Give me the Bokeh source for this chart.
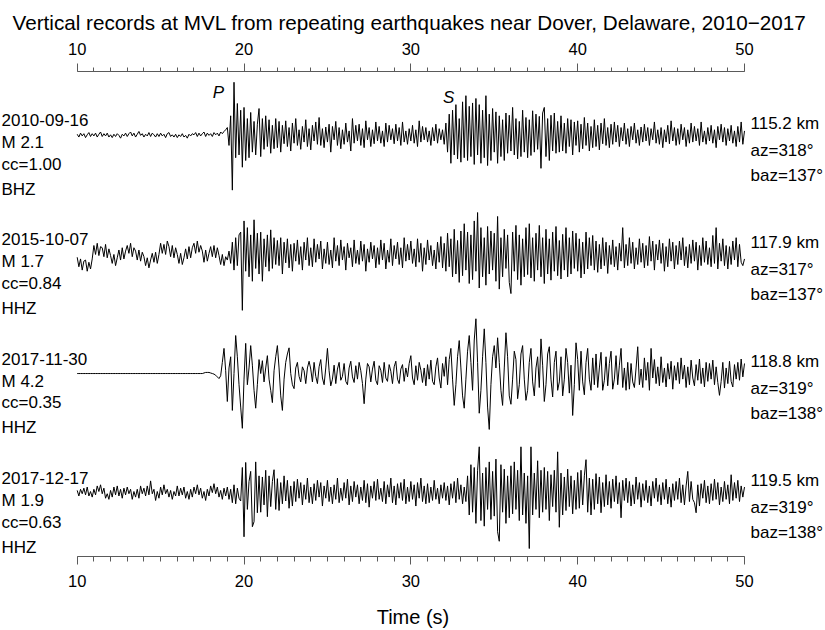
import numpy as np
from bokeh.plotting import figure
from bokeh.models import Range1d, LinearAxis, FixedTicker, LabelSet, ColumnDataSource
from bokeh.core.properties import value
from bokeh.embed import file_html
from bokeh.resources import INLINE

# ---------------- data ----------------
title_text = "Vertical records at MVL from repeating earthquakes near Dover, Delaware, 2010\u22122017"
x_label = "Time (s)"
t_start = 10.0          # s, first sample
dt = 0.1                # s, sample interval
x_ticks = [10, 20, 30, 40, 50]
x_minor = list(range(10, 51))

dates = ["2010-09-16", "2015-10-07", "2017-11-30", "2017-12-17"]
mags = ["M 2.1", "M 1.7", "M 4.2", "M 1.9"]
ccs = ["cc=1.00", "cc=0.84", "cc=0.35", "cc=0.63"]
chans = ["BHZ", "HHZ", "HHZ", "HHZ"]
dists = ["115.2 km", "117.9 km", "118.8 km", "119.5 km"]
azs = ["az=318\u00b0", "az=317\u00b0", "az=319\u00b0", "az=319\u00b0"]
bazs = ["baz=137\u00b0", "baz=137\u00b0", "baz=138\u00b0", "baz=138\u00b0"]
offsets = [4, 3, 2, 1]

phase_names = ["P", "S"]
phase_t = [18.47, 32.26]

# normalised amplitudes (percent of trace maximum), one sample every 0.1 s from 10 s to 50 s
trace_2010 = [
    2, -3, 4, -1, 3, -4, 1, 5, -2, 3,
    -1, 4, -3, 2, 6, -2, 3, -1, 4, -3,
    1, -4, 2, -2, 3, 0, -5, 2, -1, 4,
    -2, 3, 6, -1, 4, -3, 2, 7, 0, 3,
    -3, 2, -1, 5, -2, 4, 1, -3, 3, -2,
    4, -1, 2, -4, 3, 5, -2, 1, -3, 2,
    -4, 1, -2, 3, -3, 0, -5, 2, -1, 3,
    1, 5, -2, 4, -1, 3, 6, -2, 4, 0,
    3, -2, 5, 1, 4, -1, 6, 3, 7, 10,
    14, -18, 35, -98, 95, -40, 57, -35, 45, -57,
    50, -45, 30, -40, 41, -30, 25, -35, 20, 48,
    -38, 30, -25, 35, -20, 28, -32, 18, -24, 30,
    -22, 25, -30, 18, -15, 26, -20, 14, -28, 22,
    -14, 30, -18, 10, -25, 16, -12, 28, -20, 12,
    -26, 18, -10, 24, -16, 32, -18, 12, -22, 15,
    -12, 20, -30, 16, -8, 25, -18, 14, -24, 10,
    -16, 22, -12, 8, -28, 30, -14, 18, -10, 20,
    -18, 12, -22, 26, -8, 14, -20, 10, -15, 24,
    -10, 16, -14, 8, -20, 22, -12, 18, -8, 12,
    -15, 20, -10, 14, -18, 24, -12, 8, -16, 12,
    -10, 18, -14, 10, -20, 26, -12, 16, -8, 14,
    -12, 8, -18, 14, -10, 20, -14, 12, -8, 10,
    -16, 22, -30, 38, -50, 45, -35, 55, -42, 30,
    -48, 60, -40, 71, -45, 52, -38, 58, -52, 66,
    -35, 55, -50, 45, -40, 71, -54, 38, -45, 48,
    -30, 42, -50, 35, -38, 28, -45, 40, -32, 36,
    -28, 50, -35, 30, -42, 25, -38, 45, -30, 32,
    -40, 28, -36, 44, -30, 38, -25, 34, -59, 40,
    50, -38, 30, -45, 36, -28, 40, -32, 25, -30,
    35, -28, 22, -32, 30, -20, 28, -35, 24, -18,
    26, -30, 20, -24, 32, -18, 22, -28, 16, -22,
    28, -20, 18, -26, 22, -15, 30, -18, 14, -22,
    20, -16, 24, -12, 18, -20, 14, -10, 22, -16,
    12, -20, 16, -8, 22, -14, 10, -18, 15, -12,
    20, -10, 14, -18, 12, -8, 24, -14, 10, -16,
    14, -22, 10, -12, 18, -15, 26, -10, 14, -18,
    12, -16, 20, -8, 14, -20, 10, -14, 22, -12,
    16, -10, 12, -18, 24, -12, 8, -16, 14, -10,
    18, -14, 10, -22, 16, -8, 20, -12, 14, -18,
    12, -10, 18, -14, 8, -20, 16, -12, 24, -16,
    8,
]

trace_2015 = [
    -5, -22, -8, -28, -12, -10, -30, -14, -26, -8,
    16, 0, 20, -2, 14, 12, -4, 18, -6, 10,
    -2, -16, 0, -20, -6, 8, -10, 12, -8, 6,
    16, 2, 20, -4, 12, 6, -10, 8, -12, 4,
    -4, -20, -6, -24, -10, 2, -14, 4, -16, 0,
    20, 2, 18, 0, 24, 14, -4, 16, -6, 12,
    0, -16, 2, -18, -6, 10, -8, 14, -6, 12,
    20, 2, 24, 4, 16, 6, -14, 8, -12, 2,
    14, -4, 16, -6, 12, -2, -18, 0, -20, -4,
    -10, 6, -16, 22, -28, 30, -20, 35, 40, -100,
    60, -30, 48, -40, 35, -48, 62, -25, 38, -35,
    40, -48, 28, -22, 35, -30, 44, -25, 30, -18,
    25, -20, 30, -35, 22, -15, 28, -24, 18, -30,
    20, -12, 26, -18, 14, -28, 22, -10, 30, -20,
    12, -22, 28, -14, 18, -8, 24, -26, 10, -16,
    22, -18, 8, -24, 30, -12, 16, -20, 26, -10,
    14, -28, 20, -6, 12, -22, 26, -16, 8, -18,
    24, -12, 18, -30, 10, -14, 22, -8, 16, -24,
    12, -18, 26, -10, 20, -26, 8, -14, 28, -20,
    16, -8, 22, -18, 12, -24, 30, -12, 18, -10,
    24, -16, 10, -22, 28, -14, 20, -30, 12, -18,
    26, -10, 16, -20, 8, -26, 22, -14, 32, -24,
    20, -30, 38, -22, 28, -40, 45, -35, 25, -50,
    42, -38, 55, -28, 40, -52, 35, -45, 60, -30,
    75, -60, 48, -40, 30, -55, 50, -35, 42, -28,
    38, -48, 68, -62, 30, -40, 45, -25, 35, -50,
    -70, 40, -30, 52, -45, 35, -55, 28, -40, 48,
    -36, 55, -42, 30, -48, 38, -28, 52, -40, 30,
    -52, 45, -35, 28, -46, 40, -30, 50, -38, 25,
    -44, 36, -28, 48, -40, 30, -35, 42, -25, 38,
    -30, 28, -42, 22, -35, 40, -26, 30, -20, 34,
    -28, 24, -32, 18, -26, 30, -20, 22, -34, 16,
    -18, 26, -22, 14, -28, 20, -12, 48, -24, 18,
    -20, 30, -16, 22, -26, 12, -18, 28, -14, 20,
    -24, 16, -20, 32, -12, 24, -28, 18, -10, 26,
    -16, 20, -30, 14, -22, 28, -12, 22, -26, 16,
    -18, 24, -10, 30, -20, 14, -24, 18, -16, 26,
    -12, 22, -28, 16, -20, 30, -14, 24, -18, 12,
    -22, 34, -16, 48, -26, 20, -12, 28, -20, 16,
    -26, 14, -18, 24, -10, 30, -22, 18, -14, -20,
    -8,
]

trace_2017a = [
    0, 0, 0, 0, 0, 0, 0, 0, 0, 0,
    0, 0, 0, 0, 0, 0, 0, 0, 0, 0,
    0, 0, 0, 0, 0, 0, 0, 0, 0, 0,
    0, 0, 0, 0, 0, 0, 0, 0, 0, 0,
    0, 0, 0, 0, 0, 0, 0, 0, 0, 0,
    0, 0, 0, 0, 0, 0, 0, 0, 0, 0,
    0, 0, 0, 0, 0, 0, 0, 0, 0, 0,
    0, 0, 0, 0, 0, 0, 1, 2, 2, 2,
    1, 0, -1, -3, -6, -9, -4, 20, 45, 5,
    -50, 10, 30, -66, 0, 68, 30, -20, -60, -98,
    -10, 54, -20, 10, 50, 15, -30, -62, -20, 25,
    0, 23, -15, 10, 32, -10, -30, -52, 5, 30,
    50, 10, -40, -66, -10, 20, 35, 46, 0, -20,
    -27, 10, 20, -5, -15, 12, 5, -18, 10, 22,
    8, -15, 20, -5, -18, 12, 25, -8, -20, 10,
    45, 5, -22, -10, 15, -18, 8, 20, -12, -5,
    18, -14, -20, 10, 22, -6, -16, 14, -10, 20,
    5, -18, -54, -10, 18, 12, -15, 8, 22, -12,
    -20, 14, 6, -16, 20, -8, -14, 16, 4, -18,
    12, 22, -10, -18, 8, 16, -14, 10, -6, 18,
    32, -8, -20, 14, -12, 20, 6, -16, 10, -22,
    16, -10, 24, -14, -20, 12, 28, -8, -26, 18,
    -5, 30, -20, 25, 45, -10, -57, -20, 30, 59,
    10, -40, -62, -10, 40, 68, 20, -30, 60, 98,
    20, -71, -30, 30, 80, 20, -60, -100, -20, 30,
    50, 10, 64, 20, -30, -57, 10, 73, 30, -40,
    -55, -10, 40, 25, -45, -20, 35, 50, -10, -48,
    -30, 20, 45, -15, -40, 10, 30, -25, 62, 15,
    -50, -20, 35, 48, -10, -42, 20, 40, -30, -15,
    30, -40, -10, 45, 20, -35, 15, -75, -20, 55,
    25, -30, 40, -15, -38, 20, 45, -10, -30, 28,
    -20, 35, -25, 10, 38, -30, -12, 30, -22, 18,
    40, -28, -10, 32, -20, 15, 45, -25, 10, -30,
    20, -28, 18, -15, -25, 10, 48, -20, 8, -25,
    28, -12, 20, -30, 45, -8, 25, -18, 12, -22,
    30, -16, 10, -24, 18, -10, 22, -28, 14, -12,
    20, -18, 28, -10, 15, -25, 12, -20, 24, -8,
    -22, 16, -12, 26, -18, 10, -24, 20, -14, 18,
    -10, 24, -20, 12, -16, -39, -14, 20, -26, 10,
    -18, 22, -14, -24, 16, -10, 20, -12, 26, -6,
    18,
]

trace_2017b = [
    4, -6, 6, -2, 8, -4, 10, -6, 2, -8,
    6, -4, 12, 2, 14, -2, 8, -10, -2, -12,
    4, -8, 10, -4, 12, -6, 6, -10, 8, -4,
    10, -2, 6, -12, 2, -8, 6, -10, 12, -2,
    8, -6, 12, -4, 21, -2, 6, -14, 2, -10,
    10, -4, 14, -2, 6, -8, 4, -12, 2, -6,
    12, -6, 8, -4, 10, -10, 2, -12, 6, -8,
    10, -2, 14, -4, 8, -10, 2, -14, 6, -6,
    12, 0, 16, -2, 10, -8, 4, -12, 8, -6,
    10, -12, 6, -18, 14, -20, 8, -10, -15, 45,
    -79, 54, -30, 20, 38, -61, -52, 55, -36, 30,
    -35, 28, -22, 40, -43, 30, -25, 20, 41, -30,
    25, -32, 18, -20, 30, -15, 22, -28, 12, -24,
    20, -16, 24, -10, 18, -22, 14, -12, 26, -18,
    10, -20, 16, -14, 22, -8, 18, -24, 12, -10,
    22, -16, 10, -20, 14, -12, 26, -18, 8, -14,
    18, -10, 24, -22, 12, -16, 20, -8, 14, -20,
    10, -14, 22, -18, 16, -26, 12, -10, 20, -14,
    24, -12, 8, -16, 20, -20, 14, -8, 26, -18,
    12, -22, 16, -10, 18, -14, 24, -20, 10, -16,
    20, -12, 14, -24, 18, -10, 26, -16, 12, -20,
    16, -18, 10, -14, 22, -12, 8, -20, 14, -10,
    18, -14, 12, -22, 16, -10, 20, -18, 26, -12,
    14, -20, 10, -16, 30, -40, 50, -35, 45, -55,
    40, 82, -50, 35, -60, 45, -30, 55, -48, 38,
    -42, 60, -70, -87, 50, -35, 42, -55, 30, -45,
    48, -38, 55, -30, 40, -50, 82, -40, 35, -55,
    30, -100, 82, -40, 35, -30, 57, -45, 40, -35,
    45, -30, 38, -50, 32, -25, 40, -35, 73, -62,
    35, -40, 28, -32, 42, -25, 30, -38, 22, -30,
    36, -28, 40, -22, 30, 59, -35, 26, -40, 24,
    -30, 34, -20, 28, -36, 18, -25, 32, -22, 20,
    -28, 24, -16, 30, -20, 18, -45, 22, -14, 26,
    -18, 20, -24, 14, -20, 28, -12, 18, -26, 16,
    -14, 22, -18, 12, -24, 20, -10, 26, -16, 14,
    -22, 18, -12, 24, -20, 10, -26, 16, -14, 20,
    -12, 26, -18, 14, -22, 12, 38, -16, 20, -12,
    -18, -36, 14, -24, 16, -10, 22, -18, 12, -20,
    16, -14, 24, -12, 18, -22, 10, -16, 20, -12,
    14, -20, 32, -14, 18, -10, 22, -16, 12, -8,
    10,
]

traces = [trace_2010, trace_2015, trace_2017a, trace_2017b]

# ---------------- layout constants (canvas pixels) ----------------
FONT = "Liberation Sans"
W, H = 825, 630
X10, X50 = 76.7, 744.0          # canvas x of 10 s and 50 s
FRAME_TOP, FRAME_BOT = 71, 557  # axis lines
BASE_TOP, BASE_BOT = 135.0, 493.0  # baselines of first and last trace
ppx = (X50 - X10) / 40.0
ppu = (BASE_BOT - BASE_TOP) / (offsets[0] - offsets[-1])
Y1 = offsets[0] + (BASE_TOP - FRAME_TOP) / ppu
Y0 = offsets[-1] - (FRAME_BOT - BASE_BOT) / ppu
AMP = 56.0 / ppu / 100.0        # trace units per percent amplitude


def x_from_canvas(cx):
    return 10.0 + (cx - X10) / ppx


p = figure(width=W, height=H,
           x_range=Range1d(x_from_canvas(0), x_from_canvas(W)), y_range=Range1d(Y0, Y1),
           output_backend="svg", toolbar_location=None,
           x_axis_location=None, y_axis_location=None,
           min_border_left=0, min_border_right=0,
           min_border_top=FRAME_TOP, min_border_bottom=H - FRAME_BOT)
p.outline_line_color = None
p.grid.visible = False
p.background_fill_color = "white"
p.border_fill_color = "white"

p.title.text = title_text
p.title.text_font = FONT
p.title.text_font_size = "20.7px"
p.title.text_font_style = "normal"
p.title.text_color = "black"
p.title.align = "left"
p.title.offset = 12
p.title.standoff = 12

for loc, standoff, minor_len in (("above", 9, 4), ("below", 10, 5)):
    ax = LinearAxis(ticker=FixedTicker(ticks=x_ticks, minor_ticks=x_minor), bounds=(x_ticks[0], x_ticks[-1]))
    ax.axis_line_color = "#5a5a5a"
    ax.axis_line_width = 1
    ax.major_tick_line_color = "#5a5a5a"
    ax.minor_tick_line_color = "#5a5a5a"
    ax.major_tick_out = 8
    ax.major_tick_in = 0
    ax.minor_tick_out = minor_len
    ax.minor_tick_in = 0
    ax.major_label_text_font = FONT
    ax.major_label_text_font_size = "16.5px"
    ax.major_label_text_color = "black"
    ax.major_label_standoff = standoff
    if loc == "below":
        ax.axis_label = x_label
        ax.axis_label_text_font = FONT
        ax.axis_label_text_font_size = "20px"
        ax.axis_label_text_font_style = "normal"
        ax.axis_label_text_color = "black"
        ax.axis_label_standoff = 16
    p.add_layout(ax, loc)

# waveforms
for off, amp in zip(offsets, traces):
    a = np.asarray(amp, dtype=float)
    t = t_start + dt * np.arange(len(a))
    p.line(t, off + a * AMP, line_color="black", line_width=1.0, line_join="round")

# left labels
left_dy = [15, -7.5, -29.5, -54.5]
lx, ly, lt = [], [], []
for i, off in enumerate(offsets):
    for dy, txt in zip(left_dy, (dates[i], mags[i], ccs[i], chans[i])):
        lx.append(x_from_canvas(1.0))
        ly.append(off + dy / ppu)
        lt.append(txt)
p.add_layout(LabelSet(x="x", y="y", text="text", source=ColumnDataSource(dict(x=lx, y=ly, text=lt)),
                      text_font=value(FONT), text_font_size=value("17px"), text_color="black",
                      text_align="left", text_baseline="middle"))

# right labels
right_dy = [12, -15, -40]
rx, ry, rt = [], [], []
for i, off in enumerate(offsets):
    for dy, txt in zip(right_dy, (dists[i], azs[i], bazs[i])):
        rx.append(x_from_canvas(750.0))
        ry.append(off + dy / ppu)
        rt.append(txt)
p.add_layout(LabelSet(x="x", y="y", text="text", source=ColumnDataSource(dict(x=rx, y=ry, text=rt)),
                      text_font=value(FONT), text_font_size=value("17px"), text_color="black",
                      text_align="left", text_baseline="middle"))

# phase marks
p.add_layout(LabelSet(x="x", y="y", text="text",
                      source=ColumnDataSource(dict(x=phase_t, y=[offsets[0] + 43 / ppu, offsets[0] + 38 / ppu],
                                                   text=phase_names)),
                      text_font=value(FONT), text_font_size=value("17px"), text_font_style="italic",
                      text_color="black", text_align="center", text_baseline="middle"))

open("out.html", "w").write(file_html(p, INLINE))
